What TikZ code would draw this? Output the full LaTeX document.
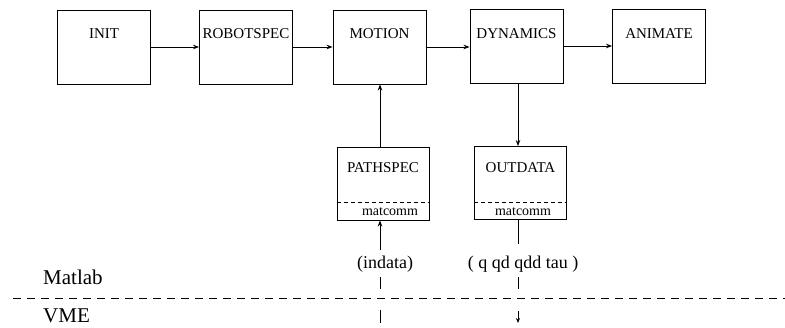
\documentclass[tikz,border=0pt]{standalone}
\usepackage{fontspec}
\setmainfont{Liberation Serif}
\usetikzlibrary{arrows.meta}
\begin{document}
\begin{tikzpicture}[x=1pt,y=-1pt,
  blk/.style={draw,line width=0.9pt,inner sep=0pt,minimum width=93pt,minimum height=74pt},
  sblk/.style={draw,line width=0.9pt,inner sep=0pt,minimum width=92pt,minimum height=73pt},
  lbl/.style={font=\fontsize{15}{16}\selectfont,inner sep=0pt},
  small/.style={font=\fontsize{14}{15}\selectfont,inner sep=0pt},
  mid/.style={font=\fontsize{18}{20}\selectfont,inner sep=0pt},
  big/.style={font=\fontsize{21}{23}\selectfont,inner sep=0pt,anchor=base west},
  arr/.style={line width=0.8pt,-{Stealth[length=6pt,width=4.5pt]}},
  ln/.style={line width=0.8pt},
  sep/.style={line width=0.8pt,dash pattern=on 8pt off 6pt},
  inner/.style={line width=0.7pt,dash pattern=on 4pt off 3pt}]
\useasboundingbox (0,0) rectangle (785,328);
% top row
\node[blk] (init) at (104,47) {};
\node[blk] (robot) at (246,47) {};
\node[blk] (motion) at (379.5,47) {};
\node[blk] (dyn) at (516.5,46) {};
\node[blk] (anim) at (659,46) {};
\node[lbl] (initL) at (104,34) {INIT};
\node[lbl] (robotL) at (246,34) {ROBOTSPEC};
\node[lbl] (motionL) at (379.5,34) {MOTION};
\node[lbl] (dynL) at (516.5,34) {DYNAMICS};
\node[lbl] (animL) at (659,34) {ANIMATE};
\draw[arr] (init.east) -- (robot.west);
\draw[arr] (robot.east) -- (motion.west);
\draw[arr] (motion.east) -- (dyn.west |- motion.east);
\draw[arr] (dyn.east) -- (anim.west);
% lower boxes
\node[sblk] (path) at (383,183.5) {};
\node[sblk] (out) at (520.5,183) {};
\node[lbl] (pathL) at (383,168) {PATHSPEC};
\node[lbl] (outL) at (520.5,168) {OUTDATA};
\draw[inner] (path.west |- 0,202) -- (path.east |- 0,202);
\draw[inner] (out.west |- 0,202) -- (out.east |- 0,202);
\node[small] (pm) at (390,212) {matcomm};
\node[small] (om) at (523,212) {matcomm};
% vertical connectors
\coordinate (xa) at (380,0);
\coordinate (xb) at (518,0);
\draw[arr] (path.north -| xa) -- (motion.south -| xa);
\draw[arr] (dyn.south -| xb) -- (out.north -| xb);
% data labels
\node[mid] (indata) at (385,264) {(indata)};
\node[mid] (qdata) at (523,264) {( q qd qdd tau )};
\coordinate (a1) at (380,250);
\coordinate (a2) at (380,277);
\coordinate (a3) at (380,289);
\coordinate (a4) at (380,310);
\coordinate (a5) at (380,323);
\draw[arr] (a1) -- (path.south -| xa);
\draw[ln] (a2) -- (a3);
\draw[ln] (a4) -- (a5);
\coordinate (b1) at (518,244);
\coordinate (b2) at (518,277);
\coordinate (b3) at (518,289);
\coordinate (b4) at (518,311);
\coordinate (b5) at (518,323);
\draw[ln] (out.south -| xb) -- (b1);
\draw[ln] (b2) -- (b3);
\draw[line width=0.8pt,-{Stealth[length=5pt,width=4pt]}] (b4) -- (b5);
% separator
\coordinate (s1) at (13,298);
\coordinate (s2) at (785,298);
\draw[sep] (s1) -- (s2);
\node[big] (matlab) at (43,285) {Matlab};
\node[big] (vme) at (43,323) {VME};
\end{tikzpicture}
\end{document}
